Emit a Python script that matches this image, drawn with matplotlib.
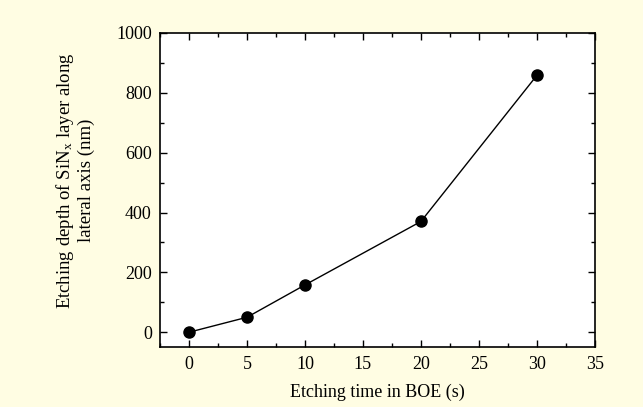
import matplotlib
matplotlib.use("Agg")
import matplotlib.pyplot as plt
from matplotlib.ticker import MultipleLocator

plt.rcParams["font.family"] = ["Liberation Serif", "DejaVu Serif"]
plt.rcParams["mathtext.fontset"] = "stix"

etch_time = [0, 5, 10, 20, 30]
etch_depth = [0, 50, 158, 370, 858]

fig = plt.figure(figsize=(6.43, 4.07), dpi=100, facecolor="#fffde3")
ax = fig.add_axes([0.249, 0.147, 0.676, 0.772])
ax.set_facecolor("white")

ax.plot(etch_time, etch_depth, c="black", lw=1, marker="o", ms=8)

ax.set_xlim(-2.5, 35)
ax.set_ylim(-50, 1000)
ax.xaxis.set_major_locator(MultipleLocator(5))
ax.xaxis.set_minor_locator(MultipleLocator(2.5))
ax.yaxis.set_major_locator(MultipleLocator(200))
ax.yaxis.set_minor_locator(MultipleLocator(100))
ax.tick_params(which="both", direction="in", top=True, right=True, labelsize=13, width=1)
ax.tick_params(which="major", length=5, pad=6)
ax.tick_params(which="minor", length=3)
for s in ax.spines.values():
    s.set_linewidth(1.2)

ax.set_xlabel("Etching time in BOE (s)", fontsize=13, labelpad=8)
ax.set_ylabel("Etching depth of SiN$_\\mathregular{x}$ layer along\nlateral axis (nm)",
              fontsize=13.5, linespacing=1.15)
ax.yaxis.set_label_coords(-0.15, 0.53)

plt.savefig("out.png", dpi=100, facecolor=fig.get_facecolor())
